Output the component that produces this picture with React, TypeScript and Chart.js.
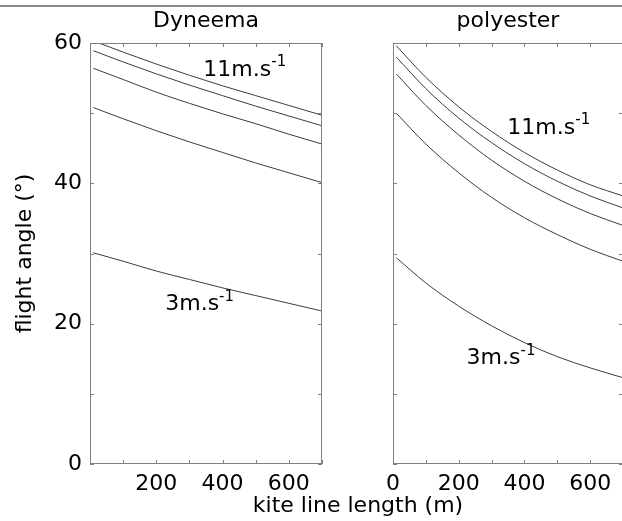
import React, { useEffect, useRef } from "react";
import { Chart, registerables } from "chart.js";

Chart.register(...registerables);

// ---- data ----
const lineLengths = [10, 100, 200, 300, 400, 500, 600, 700];

const dyneema11 = [60.3, 58.7, 57.0, 55.4, 53.9, 52.5, 51.1, 49.7];
const dyneema9 = [58.9, 57.3, 55.6, 54.0, 52.5, 51.0, 49.6, 48.2];
const dyneema7 = [56.4, 54.8, 53.0, 51.4, 49.9, 48.5, 47.0, 45.6];
const dyneema5 = [50.8, 49.2, 47.5, 45.9, 44.4, 42.9, 41.5, 40.1];
const dyneema3 = [30.1, 28.9, 27.5, 26.3, 25.1, 24.0, 22.9, 21.8];

const polyester11 = [59.6, 55.1, 50.9, 47.4, 44.4, 41.9, 39.8, 38.2];
const polyester9 = [58.0, 53.5, 49.3, 45.8, 42.8, 40.3, 38.2, 36.5];
const polyester7 = [55.6, 51.1, 46.9, 43.3, 40.3, 37.8, 35.7, 34.0];
const polyester5 = [50.0, 45.6, 41.5, 38.0, 35.1, 32.7, 30.6, 28.9];
const polyester3 = [29.4, 25.8, 22.5, 19.7, 17.3, 15.3, 13.7, 12.3];

const yTickLabels = [0, 20, 40, 60];
const dyneemaXTickLabels = [200, 400, 600];
const polyesterXTickLabels = [0, 200, 400, 600];

const windLabels = ["11m.s", "3m.s"];
const dyneemaLabelAt = [
  [342, 56.1],
  [227, 22.7],
];
const polyesterLabelAt = [
  [348, 47.9],
  [224, 15.0],
];

const FONT = '"DejaVu Sans", "Noto Sans", sans-serif';
const AXIS = "#808080";
const LINE = "#3c3c3c";

function makeSeries(arr: number[]) {
  return {
    data: lineLengths.map((x, i) => ({ x, y: arr[i] })),
    borderColor: LINE,
    borderWidth: 1,
    pointRadius: 0,
    fill: false,
    cubicInterpolationMode: "monotone" as const,
  };
}

function boxPlugin(title: string, yTitle: string | null, labelAt: number[][]) {
  return {
    id: "boxPlugin",
    afterDraw(chart: any) {
      const ctx = chart.ctx;
      const a = chart.chartArea;
      const xs = chart.scales.x;
      const ys = chart.scales.y;
      ctx.save();
      ctx.strokeStyle = AXIS;
      ctx.lineWidth = 1;
      ctx.strokeRect(a.left + 0.5, a.top + 0.5, a.right - a.left - 1, a.bottom - a.top - 1);
      const tl = 4;
      ctx.beginPath();
      xs.ticks.forEach((t: any) => {
        const px = Math.round(xs.getPixelForValue(t.value)) + 0.5;
        ctx.moveTo(px, a.bottom);
        ctx.lineTo(px, a.bottom - tl);
        ctx.moveTo(px, a.top);
        ctx.lineTo(px, a.top + tl);
      });
      ys.ticks.forEach((t: any) => {
        const py = Math.round(ys.getPixelForValue(t.value)) + 0.5;
        ctx.moveTo(a.left, py);
        ctx.lineTo(a.left + tl, py);
        ctx.moveTo(a.right, py);
        ctx.lineTo(a.right - tl, py);
      });
      ctx.stroke();

      ctx.fillStyle = "#000";
      ctx.font = `22px ${FONT}`;
      ctx.textAlign = "center";
      ctx.textBaseline = "middle";
      ctx.fillText(title, (a.left + a.right) / 2, 21);

      if (yTitle) {
        ctx.save();
        ctx.translate(25, (a.top + a.bottom) / 2);
        ctx.rotate(-Math.PI / 2);
        ctx.fillText(yTitle, 0, 0);
        ctx.restore();
      }

      labelAt.forEach((p, i) => {
        const px = xs.getPixelForValue(p[0]);
        const py = ys.getPixelForValue(p[1]);
        ctx.font = `22px ${FONT}`;
        ctx.textAlign = "left";
        ctx.textBaseline = "middle";
        ctx.fillText(windLabels[i], px, py);
        const w = ctx.measureText(windLabels[i]).width;
        ctx.font = `15px ${FONT}`;
        ctx.fillText("-1", px + w, py - 8);
      });
      ctx.restore();
    },
  };
}

function makeConfig(
  series: number[][],
  xLabels: number[],
  showY: boolean,
  yWidth: number,
  rightPad: number,
  title: string,
  yTitle: string | null,
  labelAt: number[][]
): any {
  return {
    type: "line",
    data: { datasets: series.map(makeSeries) },
    options: {
      animation: false,
      responsive: false,
      maintainAspectRatio: false,
      layout: { padding: { top: 43, left: 0, right: rightPad, bottom: 0 } },
      plugins: { legend: { display: false }, tooltip: { enabled: false } },
      scales: {
        x: {
          type: "linear",
          min: 0,
          max: 700,
          grid: { display: false, drawTicks: false },
          border: { display: false },
          ticks: {
            stepSize: 100,
            autoSkip: false,
            maxRotation: 0,
            padding: 7,
            color: "#000",
            font: { family: FONT, size: 22 },
            callback: (v: any) => (xLabels.includes(Number(v)) ? String(v) : ""),
          },
          afterFit: (s: any) => {
            s.height = 57;
          },
        },
        y: {
          type: "linear",
          min: 0,
          max: 60,
          grid: { display: false, drawTicks: false },
          border: { display: false },
          ticks: {
            display: showY,
            stepSize: 10,
            autoSkip: false,
            padding: 8,
            color: "#000",
            font: { family: FONT, size: 22 },
            callback: (v: any) => (yTickLabels.includes(Number(v)) ? String(v) : ""),
          },
          afterFit: (s: any) => {
            s.width = yWidth;
          },
        },
      },
    },
    plugins: [boxPlugin(title, yTitle, labelAt)],
  };
}

export default function App() {
  const leftRef = useRef<HTMLCanvasElement>(null);
  const rightRef = useRef<HTMLCanvasElement>(null);

  useEffect(() => {
    const left = new Chart(
      leftRef.current as HTMLCanvasElement,
      makeConfig(
        [dyneema11, dyneema9, dyneema7, dyneema5, dyneema3],
        dyneemaXTickLabels,
        true,
        90,
        8,
        "Dyneema",
        "flight angle (°)",
        dyneemaLabelAt
      )
    );
    const right = new Chart(
      rightRef.current as HTMLCanvasElement,
      makeConfig(
        [polyester11, polyester9, polyester7, polyester5, polyester3],
        polyesterXTickLabels,
        false,
        63,
        6,
        "polyester",
        null,
        polyesterLabelAt
      )
    );
    return () => {
      left.destroy();
      right.destroy();
    };
  }, []);

  return (
    <div
      style={{
        position: "fixed",
        left: 0,
        top: 0,
        width: 622,
        height: 521,
        overflow: "hidden",
        background: "#fff",
      }}
    >
      <div
        style={{
          position: "absolute",
          left: 0,
          top: 5,
          width: 622,
          height: 2,
          background: "#8a8a8a",
        }}
      />
      <canvas
        ref={leftRef}
        width={330}
        height={521}
        style={{ position: "absolute", left: 0, top: 0, width: 330, height: 521 }}
      />
      <canvas
        ref={rightRef}
        width={300}
        height={521}
        style={{ position: "absolute", left: 330, top: 0, width: 300, height: 521 }}
      />
      <div
        style={{
          position: "absolute",
          left: 0,
          width: 716,
          top: 492,
          textAlign: "center",
          fontFamily: FONT,
          fontSize: 22,
          lineHeight: "26px",
          color: "#000",
          whiteSpace: "nowrap",
        }}
      >
        kite line length (m)
      </div>
    </div>
  );
}
